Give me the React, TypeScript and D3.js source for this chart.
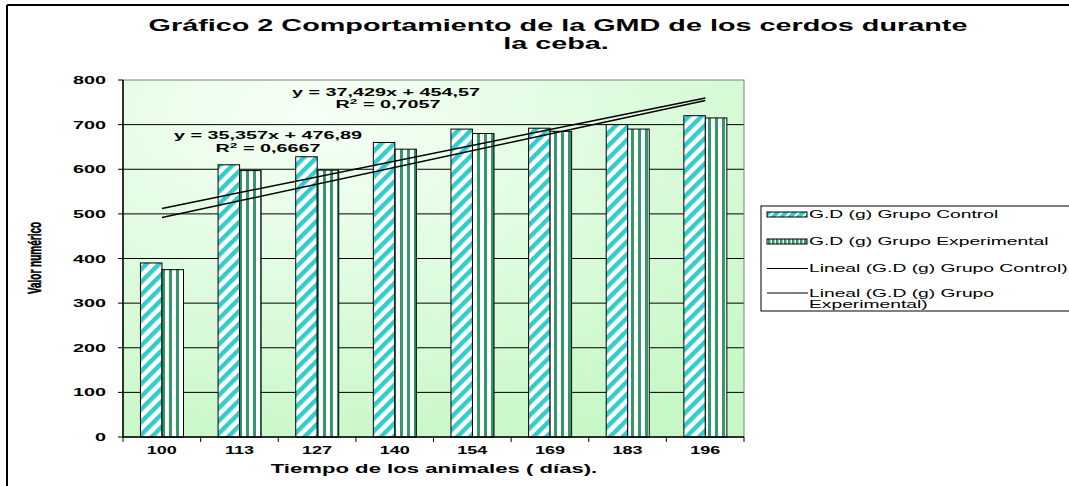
import React from "react";
import * as d3 from "d3";

const categories = ["100", "113", "127", "140", "154", "169", "183", "196"];
const controlValues = [390, 610, 628, 660, 690, 692, 700, 720];
const experimentalValues = [375, 597, 598, 645, 680, 685, 690, 715];
const yTicks = [0, 100, 200, 300, 400, 500, 600, 700, 800];
const seriesNames = ["G.D (g) Grupo Control", "G.D (g) Grupo Experimental"];
const trendControl = { slope: 35.357, intercept: 476.89, eq: "y = 35,357x + 476,89", r2: "0,6667" };
const trendExperimental = { slope: 37.429, intercept: 454.57, eq: "y = 37,429x + 454,57", r2: "0,7057" };
const titleLines = ["Gráfico 2 Comportamiento de la GMD de los cerdos durante", "la ceba."];
const xTitle = "Tiempo de los animales ( días).";
const yTitle = "Valor numérico";

const W = 1069;
const H = 486;
const SX = 1.8;
const FONT = "'Liberation Sans', Arial, sans-serif";

const plot = { left: 123, right: 744, top: 80, bottom: 437 };

function Txt({ x, y, anchor = "start", size = 10, weight = "bold", children }: any) {
  return (
    <text
      transform={`translate(${x},${y}) scale(${SX},1)`}
      textAnchor={anchor}
      fontSize={size}
      fontWeight={weight}
      fontFamily={FONT}
      fill="#000"
    >
      {children}
    </text>
  );
}

export default function App() {
  const x = d3.scaleBand<string>().domain(categories).range([plot.left, plot.right]).padding(0);
  const y = d3.scaleLinear().domain([0, 800]).range([plot.bottom, plot.top]);
  const bw = x.bandwidth();
  const barW = bw * 0.277;
  const barOff = bw * 0.225;
  const xi = d3.scaleLinear().domain([1, categories.length]).range([
    (x(categories[0]) as number) + barOff + barW,
    (x(categories[categories.length - 1]) as number) + barOff + barW,
  ]);
  const trendLine = (t: any) =>
    d3.line<number>().x((d) => xi(d)).y((d) => y(t.slope * d + t.intercept))([1, categories.length]) as string;

  const series = [controlValues, experimentalValues];
  const fills = ["url(#patCtrl)", "url(#patExp)"];

  return (
    <svg width={W} height={H} style={{ position: "absolute", left: 0, top: 0, background: "#fff" }}>
      <defs>
        <radialGradient id="bg" cx="0.3" cy="0.1" r="1" gradientUnits="objectBoundingBox">
          <stop offset="0" stopColor="#f6fff6" />
          <stop offset="1" stopColor="#c6f7c6" />
        </radialGradient>
        <pattern id="patCtrl" width="9" height="9" patternUnits="userSpaceOnUse" patternTransform="rotate(45)">
          <rect width="9" height="9" fill="#fff" />
          <rect width="4.5" height="9" fill="#33cccc" />
        </pattern>
        <pattern id="patExp" width="7" height="7" patternUnits="userSpaceOnUse">
          <rect width="7" height="7" fill="#fff" />
          <rect x="1" width="3" height="7" fill="#339966" />
        </pattern>
        <pattern id="patCtrlLeg" width="6" height="6" patternUnits="userSpaceOnUse" patternTransform="rotate(45)">
          <rect width="6" height="6" fill="#33cccc" />
          <rect width="2" height="6" fill="#fff" />
        </pattern>
        <pattern id="patExpLeg" width="4" height="4" patternUnits="userSpaceOnUse">
          <rect width="4" height="4" fill="#fff" />
          <rect width="2.5" height="4" fill="#339966" />
        </pattern>
      </defs>

      {/* outer frame */}
      <line x1={7} y1={5} x2={W} y2={5} stroke="#000" strokeWidth={2} />
      <line x1={7} y1={5} x2={7} y2={H} stroke="#000" strokeWidth={2} />

      {/* title */}
      <Txt x={558} y={31} anchor="middle" size={16}>{titleLines[0]}</Txt>
      <Txt x={556} y={49} anchor="middle" size={16}>{titleLines[1]}</Txt>

      {/* plot background */}
      <rect x={plot.left} y={plot.top} width={plot.right - plot.left} height={plot.bottom - plot.top} fill="url(#bg)" />

      {/* gridlines */}
      {yTicks.filter((t) => t > 0 && t < 800).map((t) => (
        <line key={t} x1={plot.left} x2={plot.right} y1={y(t)} y2={y(t)} stroke="#000" strokeWidth={1} />
      ))}
      <rect x={plot.left} y={plot.top} width={plot.right - plot.left} height={plot.bottom - plot.top} fill="none" stroke="#808080" strokeWidth={1} />

      {/* bars */}
      {series.map((vals, si) =>
        vals.map((v, i) => (
          <rect
            key={`${si}-${i}`}
            x={(x(categories[i]) as number) + barOff + si * barW}
            y={y(v)}
            width={barW}
            height={y(0) - y(v)}
            fill={fills[si]}
            stroke="#000"
            strokeWidth={1}
          />
        ))
      )}

      {/* trend lines */}
      <path d={trendLine(trendControl)} fill="none" stroke="#000" strokeWidth={1.5} />
      <path d={trendLine(trendExperimental)} fill="none" stroke="#000" strokeWidth={1.5} />

      {/* axes */}
      <line x1={plot.left} x2={plot.left} y1={plot.top} y2={plot.bottom} stroke="#000" strokeWidth={1.5} />
      <line x1={plot.left} x2={plot.right} y1={plot.bottom} y2={plot.bottom} stroke="#000" strokeWidth={1.5} />
      {yTicks.map((t) => (
        <g key={t}>
          <line x1={plot.left - 5} x2={plot.left} y1={y(t)} y2={y(t)} stroke="#000" />
          <Txt x={106} y={y(t) + 4} anchor="end" size={11}>{t}</Txt>
        </g>
      ))}
      {categories.map((c) => (
        <g key={c}>
          <line x1={x(c) as number} x2={x(c) as number} y1={plot.bottom} y2={plot.bottom + 5} stroke="#000" />
          <Txt x={(x(c) as number) + bw / 2} y={454} anchor="middle" size={10}>{c}</Txt>
        </g>
      ))}
      <line x1={plot.right} x2={plot.right} y1={plot.bottom} y2={plot.bottom + 5} stroke="#000" />

      {/* axis titles */}
      <Txt x={434} y={473} anchor="middle" size={12.3}>{xTitle}</Txt>
      <text
        transform={`translate(41,258) scale(${SX},1) rotate(-90)`}
        textAnchor="middle"
        fontSize={10}
        fontWeight="bold"
        fontFamily={FONT}
        stroke="#000"
        strokeWidth={0.3}
      >
        {yTitle}
      </text>

      {/* trend equations */}
      <Txt x={268} y={139} anchor="middle" size={11}>{trendControl.eq}</Txt>
      <Txt x={268} y={151.5} anchor="middle" size={11}>
        R<tspan fontSize={7.5} dy={-4}>2</tspan><tspan dy={4}>{" = " + trendControl.r2}</tspan>
      </Txt>
      <Txt x={386} y={96} anchor="middle" size={11}>{trendExperimental.eq}</Txt>
      <Txt x={388} y={107.5} anchor="middle" size={11}>
        R<tspan fontSize={7.5} dy={-4}>2</tspan><tspan dy={4}>{" = " + trendExperimental.r2}</tspan>
      </Txt>

      {/* legend */}
      <rect x={761} y={206} width={330} height={105} fill="#fff" stroke="#000" strokeWidth={1} />
      <rect x={767} y={212} width={40} height={5} fill="url(#patCtrlLeg)" stroke="#000" strokeWidth={1} />
      <Txt x={809} y={217.5} size={10.7} weight="normal">{seriesNames[0]}</Txt>
      <rect x={767} y={239} width={40} height={5} fill="url(#patExpLeg)" stroke="#000" strokeWidth={1} />
      <Txt x={809} y={244.5} size={10.7} weight="normal">{seriesNames[1]}</Txt>
      <line x1={767} x2={808} y1={268.5} y2={268.5} stroke="#000" strokeWidth={1} />
      <Txt x={809} y={272} size={10.7} weight="normal">{"Lineal (" + seriesNames[0] + ")"}</Txt>
      <line x1={767} x2={808} y1={293} y2={293} stroke="#000" strokeWidth={1} />
      <Txt x={809} y={296.5} size={10.7} weight="normal">Lineal (G.D (g) Grupo</Txt>
      <Txt x={809} y={307.5} size={10.7} weight="normal">Experimental)</Txt>
    </svg>
  );
}
